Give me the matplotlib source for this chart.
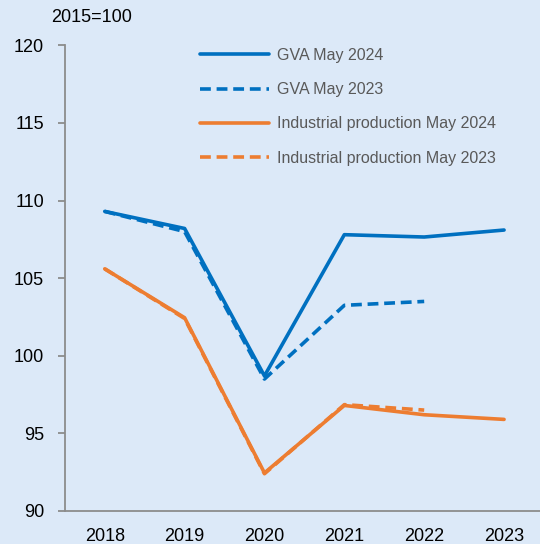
import matplotlib
matplotlib.use("Agg")
import matplotlib.pyplot as plt

# data (2015=100)
years = ["2018", "2019", "2020", "2021", "2022", "2023"]
gva_2024 = [109.3, 108.2, 98.7, 107.8, 107.65, 108.1]
gva_2023 = [109.3, 108.0, 98.5, 103.25, 103.5]
ip_2024 = [105.6, 102.45, 92.45, 96.8, 96.2, 95.9]
ip_2023 = [105.6, 102.4, 92.4, 96.85, 96.5]

BLUE = "#0070C0"
ORANGE = "#ED7D31"
BG = "#DCE9F8"

plt.rcParams["font.family"] = ["Liberation Sans", "DejaVu Sans"]

fig = plt.figure(figsize=(5.4, 5.44), dpi=100, facecolor=BG)
ax = fig.add_axes([0.120, 0.0607, 0.880, 0.856])
ax.set_facecolor(BG)

x = list(range(len(years)))
lw = 2.6
dash = (0, (3.0, 1.6))

ax.plot(x, gva_2024, color=BLUE, lw=lw, label="GVA May 2024", solid_capstyle="round")
ax.plot(x[:len(gva_2023)], gva_2023, color=BLUE, lw=lw, linestyle=dash, label="GVA May 2023")
ax.plot(x, ip_2024, color=ORANGE, lw=lw, label="Industrial production May 2024", solid_capstyle="round")
ax.plot(x[:len(ip_2023)], ip_2023, color=ORANGE, lw=lw, linestyle=dash,
        label="Industrial production May 2023")

ax.set_ylim(90, 120)
ax.set_yticks(range(90, 121, 5))
ax.set_xlim(-0.5, 5.45)
ax.set_xticks(x)
ax.set_xticklabels(years)

for s in ["top", "right"]:
    ax.spines[s].set_visible(False)
for s in ["left", "bottom"]:
    ax.spines[s].set_color("#8C8C8C")
    ax.spines[s].set_linewidth(1.3)
ax.tick_params(axis="y", direction="out", length=5, width=1.3, color="#8C8C8C",
               labelsize=13, pad=10)
ax.tick_params(axis="x", length=0, labelsize=13, pad=12)

fig.text(51 / 540, 1 - 18 / 544, "2015=100", fontsize=13, va="center", ha="left")

leg = ax.legend(loc="upper left", bbox_to_anchor=(200 / 540, 1 - 48 / 544),
                bbox_transform=fig.transFigure, frameon=False, fontsize=11.5,
                borderpad=0, borderaxespad=0, handlelength=4.35, handletextpad=0.45,
                labelspacing=1.2)
for t in leg.get_texts():
    t.set_color("#595959")

fig.savefig("out.png", dpi=100, facecolor=BG)
